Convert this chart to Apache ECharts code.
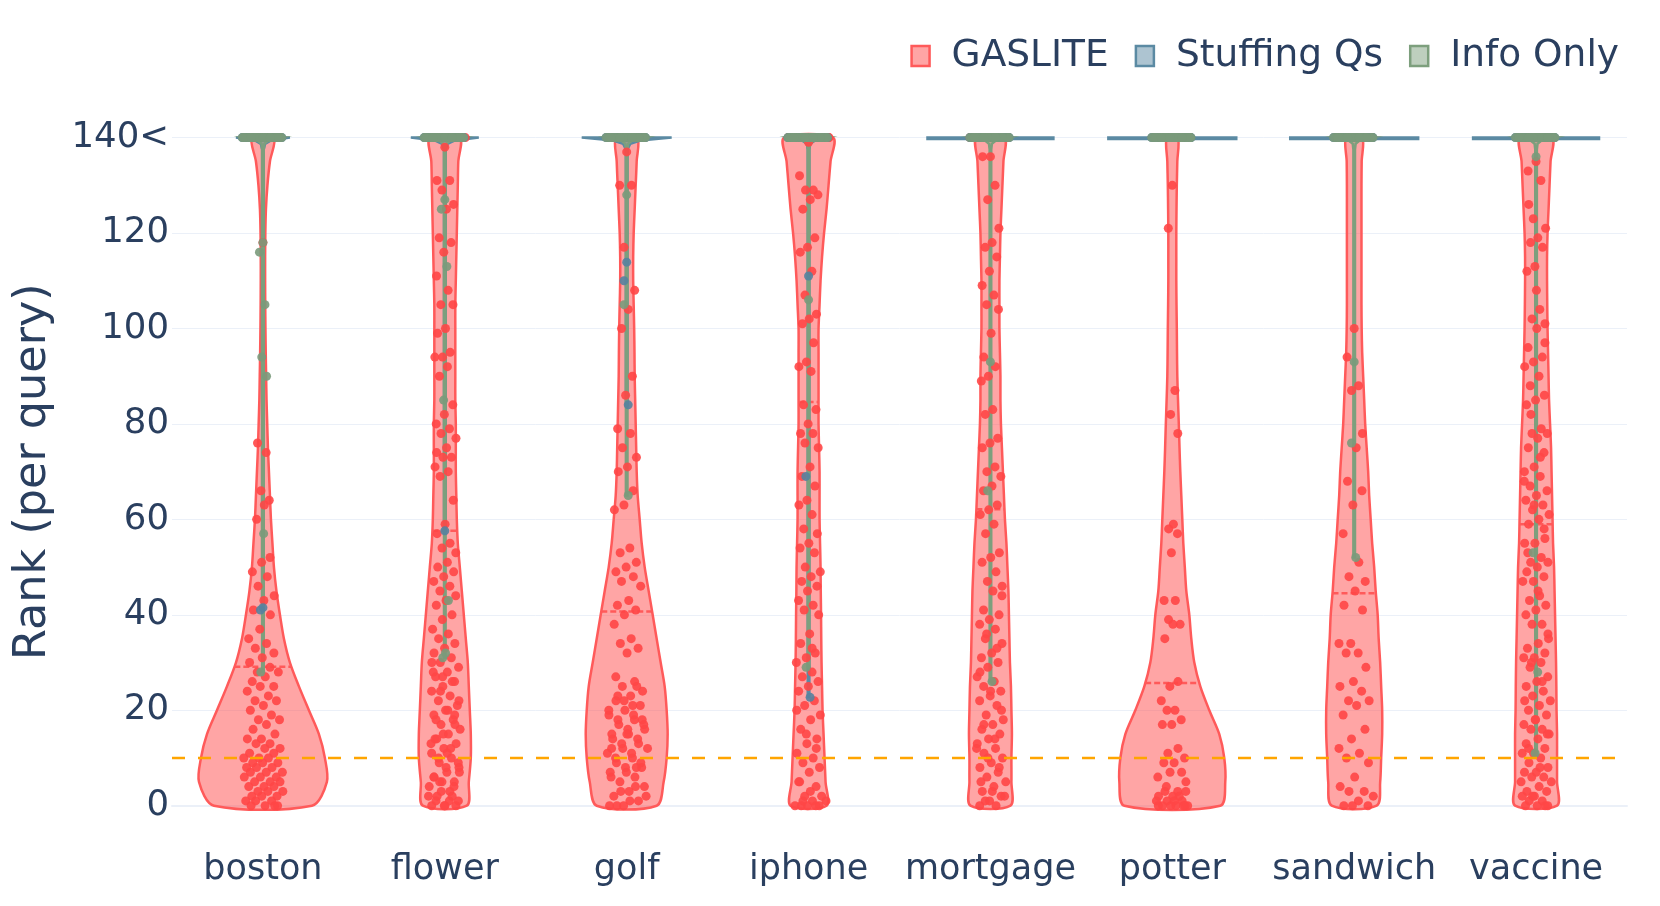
<!DOCTYPE html>
<html>
<head>
<meta charset="utf-8">
<script src="https://cdn.jsdelivr.net/npm/echarts@6/dist/echarts.min.js"></script>
<style>
html, body { margin: 0; padding: 0; background: #fff; }
#main { width: 1660px; height: 906px; }
</style>
</head>
<body>
<div id="main"></div>
<script>
// categories on the x axis
var categories = ['boston', 'flower', 'golf', 'iphone', 'mortgage', 'potter', 'sandwich', 'vaccine'];
var tickValues = [0, 20, 40, 60, 80, 100, 120, 140];
var tickLabels = ['0', '20', '40', '60', '80', '100', '120', '140<'];
var CAP = 140;        // ranks above this are drawn at 140 ("140<")
var THRESHOLD = 10;   // dashed orange line

// kde half widths of the GASLITE violins, read at these ranks
var densityLevels = [0, 5, 10, 15, 20, 25, 30, 35, 40, 45, 50, 55, 60, 65, 70, 75, 80, 85, 90, 95, 100, 105, 110, 115, 120, 125, 130, 135, 140];
var gasliteDensity = [
    [49, 64, 62, 56, 46, 36, 27, 21, 17, 13.5, 11, 9.5, 8, 7, 6, 5, 4.3, 3.6, 3.2, 2.8, 2.5, 2.3, 2.2, 2.2, 2.4, 3, 4.5, 7, 11],
    [22, 24, 26, 26, 25, 24, 23, 21, 19, 17, 15, 13, 12, 11.5, 11, 11, 11, 10.5, 10.5, 10.5, 10.5, 10.5, 11, 11.5, 12, 12.5, 13, 13.5, 15],
    [30, 37, 40, 41, 40, 38, 34, 30, 26, 22, 18, 15, 13, 11, 10, 9.5, 9, 8.5, 8, 7.8, 7.5, 7, 6.5, 6.5, 7, 8, 9, 10, 10.5],
    [18, 17, 16, 15, 14, 13.5, 13, 12.7, 12.5, 12.2, 12, 11.5, 11, 11, 11, 10.5, 10, 10, 10, 10, 10, 11, 12, 13.5, 15.5, 18, 20, 22, 24.5],
    [20, 21, 21, 21.5, 21, 20.5, 19.5, 19, 18.5, 18, 17, 16, 14.5, 13.5, 12.5, 11.5, 10.5, 10, 10, 9.5, 9, 9, 9, 9.5, 10, 11, 12, 13, 14],
    [48, 53, 52, 47, 37, 28, 22, 19, 17, 14, 12.5, 11, 10, 9, 8, 7.2, 6.5, 5.7, 5, 4.7, 4.5, 4.2, 4, 4, 4, 4.2, 4.5, 5, 5.5],
    [22.5, 26, 27, 28, 28, 27, 26, 24.5, 23.5, 21.5, 20, 18, 16.5, 15, 14, 12.5, 11, 10, 9, 8, 7.5, 7.3, 7.3, 7.3, 7.3, 7.3, 7.3, 7.5, 8],
    [21, 21, 21, 21, 20.5, 20.3, 20, 19.5, 19, 18.5, 18, 17, 16.5, 16, 15.5, 15, 14, 13, 12.5, 12, 11.5, 11.2, 11, 11, 11.5, 12.5, 13.5, 14.5, 16]
];
var gasliteMean = [29.1, 57.6, 40.7, 84.6, 62.1, 25.7, 44.5, 59];

// GASLITE ranks below the cap, per category
var gaslitePoints = [
    [118, 76, 74, 66, 64, 63, 60, 52, 51, 49, 48, 46, 44, 43, 41, 40, 37, 35, 34, 33, 32, 31, 30, 29, 28, 28, 27, 26, 25, 25, 24, 23, 22, 22, 21, 20, 19, 18, 18, 17, 16, 15, 14, 14, 13, 13, 12, 12, 11, 11, 10, 10, 10, 9, 9, 9, 8, 8, 8, 7, 7, 7, 6, 6, 6, 5, 5, 5, 4, 4, 4, 3, 3, 3, 2, 2, 2, 1, 1, 1, 0, 0, 0, 0],
    [138, 131, 131, 129, 126, 125, 119, 118, 116, 111, 108, 105, 105, 100, 99, 95, 94, 94, 92, 90, 84, 82, 80, 79, 78, 77, 75, 74, 73, 73, 71, 70, 69, 64, 59, 57, 55, 54, 53, 51, 50, 49, 48, 47, 46, 45, 44, 43, 42, 40, 39, 37, 36, 35, 34, 33, 32, 31, 30, 29, 28, 27, 26, 25, 24, 23, 22, 21, 20, 19, 18, 17, 16, 15, 14, 13, 12, 11, 10, 9, 8, 7, 6, 5, 5, 4, 3, 2, 1, 0, 28, 26, 24, 22, 20, 18, 17, 15, 13, 12, 10, 9, 8, 6, 4, 3, 2, 1, 1, 0, 0, 0, 2, 5, 7, 11, 14, 19, 27, 30],
    [137, 130, 130, 117, 108, 104, 100, 90, 86, 79, 78, 75, 73, 71, 70, 66, 63, 62, 54, 53, 51, 50, 49, 48, 47, 46, 43, 42, 41, 40, 38, 35, 34, 33, 32, 27, 26, 25, 24, 23, 22, 21, 20, 19, 18, 17, 16, 15, 14, 13, 12, 11, 10, 9, 8, 7, 6, 4, 3, 2, 1, 0, 25, 22, 20, 19, 18, 17, 16, 15, 14, 13, 12, 11, 10, 9, 8, 7, 6, 5, 4, 3, 2, 1, 0, 0, 21, 23, 18, 15, 12, 8],
    [139, 132, 129, 129, 128, 127, 125, 119, 117, 116, 112, 107, 103, 102, 101, 97, 93, 92, 91, 84, 83, 80, 78, 78, 76, 75, 71, 69, 67, 64, 63, 61, 58, 57, 55, 54, 53, 50, 49, 48, 47, 46, 45, 43, 42, 41, 40, 36, 34, 32, 31, 30, 28, 27, 26, 25, 24, 22, 21, 19, 18, 16, 14, 13, 11, 10, 9, 8, 7, 5, 4, 2, 1, 1, 0, 0, 0, 0, 0, 1, 2, 3, 5, 12, 15, 20, 33],
    [136, 136, 130, 127, 121, 118, 117, 115, 112, 109, 107, 105, 104, 99, 94, 92, 90, 89, 83, 82, 77, 76, 75, 71, 70, 69, 67, 66, 63, 62, 61, 59, 57, 53, 52, 51, 49, 47, 46, 45, 41, 40, 39, 38, 37, 35, 34, 32, 31, 30, 29, 27, 26, 25, 24, 23, 22, 21, 19, 18, 17, 16, 15, 14, 13, 12, 11, 10, 9, 8, 7, 6, 5, 4, 3, 2, 1, 0, 0, 1, 2, 3, 5, 8, 10, 12, 14, 17, 20, 24, 28, 33, 36, 44],
    [130, 121, 87, 82, 78, 59, 58, 57, 53, 43, 43, 39, 38, 38, 35, 26, 25, 22, 20, 20, 18, 17, 17, 12, 11, 10, 9, 9, 7, 7, 6, 3, 3, 3, 2, 2, 1, 1, 0, 0, 0, 0, 0, 1, 2, 4, 5, 1, 0, 0],
    [100, 94, 88, 87, 78, 75, 68, 66, 63, 57, 51, 48, 47, 45, 42, 41, 34, 34, 32, 32, 29, 26, 25, 24, 22, 22, 21, 19, 16, 14, 12, 11, 10, 9, 6, 4, 3, 3, 2, 1, 0, 0, 0],
    [135, 133, 131, 123, 121, 119, 118, 117, 113, 112, 104, 102, 101, 100, 96, 94, 93, 92, 90, 88, 86, 85, 84, 79, 78, 78, 77, 75, 74, 71, 70, 69, 67, 66, 65, 64, 63, 62, 61, 60, 59, 56, 55, 55, 52, 51, 51, 50, 49, 48, 47, 47, 44, 43, 42, 41, 40, 38, 38, 35, 34, 33, 32, 31, 31, 30, 29, 27, 26, 25, 24, 23, 22, 21, 20, 19, 18, 17, 16, 16, 15, 14, 13, 12, 11, 11, 10, 9, 8, 7, 7, 6, 6, 5, 4, 3, 3, 2, 2, 1, 1, 0, 0, 0, 0, 2, 5, 8, 12, 15, 18, 22, 26, 30, 36, 45, 53, 58, 63, 68, 73, 82, 97, 108, 126]
];
var gasliteCapCount = [6, 20, 7, 53, 19, 1, 5, 15];

// Stuffing Qs: ranks below the cap, count at the cap, kde width at the cap
var stuffingPoints = [[41.5, 41], [57.6], [113.9, 110, 84], [111, 69, 22.7], [], [], [], []];
var stuffingCapCount = [30, 30, 30, 30, 30, 30, 30, 30];
var stuffingTopWidth = [27, 34, 45, 22, 63, 64, 64, 63];

// Info Only
var infoPoints = [[118, 116, 105, 94, 90, 57, 28], [127, 125, 113, 85, 43, 32, 31], [128, 105, 65], [106, 29], [93, 66, 26], [], [93, 76, 52], [136, 53, 28, 11]];
var infoCapCount = [30, 30, 30, 30, 30, 30, 30, 30];
var infoTopWidth = [18, 18, 18, 18, 18, 18, 18, 18];

var FONT = '"DejaVu Sans", Verdana, sans-serif';
var TEXT = '#2a3f5f';
var DENSITY_TO_X = 1 / 182;  // half width unit -> category units
var JITTER = 0.115;
var STEM = 0.8;

function withCap(lists, counts) {
    return lists.map(function (vals, i) {
        var out = vals.slice();
        for (var k = 0; k < counts[i]; k++) out.push(CAP);
        return out;
    });
}

function jitterOffset(k) {
    var f = (k * 0.6180339887 + 0.5) % 1;
    return (f - 0.5) * 2 * JITTER;
}

// local point density from the 10 nearest ranks, like plotly's jitter factors
function jitterFactors(vals) {
    var n = vals.length;
    var order = vals.map(function (v, k) { return k; }).sort(function (a, b) { return vals[a] - vals[b]; });
    var sorted = order.map(function (k) { return vals[k]; });
    var minSpan = (sorted[n - 1] - sorted[0]) / 20 || 1;
    var f = new Array(n), maxF = 0;
    order.forEach(function (k, r) {
        var r0 = Math.max(0, r - 5), r1 = Math.min(n - 1, r + 5);
        var jf = Math.sqrt(minSpan * (r1 - r0) / (sorted[r1] - sorted[r0] + minSpan));
        f[k] = jf;
        maxF = Math.max(maxF, jf);
    });
    return f.map(function (x) { return maxF ? x / maxF : 0; });
}

function widthAt(prof, y) {
    for (var k = 1; k < prof.length; k++) {
        if (y <= prof[k][0]) {
            var t = (y - prof[k - 1][0]) / (prof[k][0] - prof[k - 1][0]);
            return prof[k - 1][1] + t * (prof[k][1] - prof[k - 1][1]);
        }
    }
    return prof[prof.length - 1][1];
}

// violins that hold almost only capped ranks: thin stem + flare at the cap
function spikeProfile(vals, topWidth) {
    var lo = vals.length ? Math.min.apply(null, vals) : CAP;
    if (lo >= CAP) return [[CAP - 0.3, topWidth], [CAP, topWidth]];
    return [[lo, STEM], [CAP - 2.5, STEM], [CAP - 1.3, topWidth * 0.08], [CAP - 0.6, topWidth * 0.3], [CAP, topWidth]];
}

var gasliteProfiles = gasliteDensity.map(function (d) {
    return densityLevels.map(function (lv, k) { return [lv, d[k]]; });
});
var stuffingProfiles = stuffingPoints.map(function (v, i) { return spikeProfile(v, stuffingTopWidth[i]); });
var infoProfiles = infoPoints.map(function (v, i) { return spikeProfile(v, infoTopWidth[i]); });

function violinSeries(name, profiles, lineColor, fillColor, means, smooth) {
    return {
        name: name,
        type: 'custom',
        coordinateSystem: 'cartesian2d',
        xAxisIndex: 1,
        yAxisIndex: 0,
        silent: true,
        clip: false,
        data: categories.map(function (c, i) { return [i, 0]; }),
        renderItem: function (params, api) {
            var i = api.value(0);
            var prof = profiles[i];
            var right = [], left = [];
            prof.forEach(function (p) {
                right.push(api.coord([i + p[1] * DENSITY_TO_X, p[0]]));
                left.push(api.coord([i - p[1] * DENSITY_TO_X, p[0]]));
            });
            var children = [{
                type: 'polygon',
                shape: { points: right.concat(left.reverse()), smooth: smooth },
                style: { fill: fillColor, stroke: lineColor, lineWidth: 2.5 }
            }];
            if (means) {
                var w = widthAt(prof, means[i]) * DENSITY_TO_X;
                var a = api.coord([i - w, means[i]]);
                var b = api.coord([i + w, means[i]]);
                children.push({
                    type: 'line',
                    shape: { x1: a[0], y1: a[1], x2: b[0], y2: b[1] },
                    style: { stroke: lineColor, lineWidth: 2.5, lineDash: [6, 3] }
                });
            }
            return { type: 'group', children: children };
        }
    };
}

function pointSeries(name, lists, color, opacity) {
    var data = [];
    lists.forEach(function (vals, i) {
        var jf = jitterFactors(vals);
        vals.forEach(function (v, k) {
            data.push([i + jitterOffset(k) * jf[k], v]);
        });
    });
    return {
        name: name,
        type: 'scatter',
        xAxisIndex: 1,
        yAxisIndex: 0,
        silent: true,
        clip: false,
        symbolSize: 9,
        itemStyle: { color: color, opacity: opacity },
        data: data
    };
}

var RED = '#ff5a5a', RED_FILL = 'rgba(255,75,75,0.5)', RED_PT = '#ff4646';
var BLUE = '#5b8aa3', BLUE_FILL = 'rgba(91,138,163,0.5)', BLUE_PT = '#56829e';
var GREEN = '#7d9f7d', GREEN_FILL = 'rgba(125,159,125,0.5)', GREEN_PT = '#7a9a7b';

var myChart = echarts.init(document.getElementById('main'));

var option = {
    animation: false,
    backgroundColor: '#fff',
    grid: { left: 172, right: 33, top: 137.6, bottom: 100.3 },
    legend: {
        top: 32,
        right: 36,
        itemWidth: 18,
        itemHeight: 20,
        itemGap: 26,
        textStyle: { fontSize: 37.5, color: TEXT, fontFamily: FONT, padding: [0, 0, 0, 17] },
        data: [
            { name: 'GASLITE', icon: 'rect', itemStyle: { color: RED_FILL, borderColor: RED, borderWidth: 2.5 } },
            { name: 'Stuffing Qs', icon: 'rect', itemStyle: { color: BLUE_FILL, borderColor: BLUE, borderWidth: 2.5 } },
            { name: 'Info Only', icon: 'rect', itemStyle: { color: GREEN_FILL, borderColor: GREEN, borderWidth: 2.5 } }
        ]
    },
    xAxis: [{
        type: 'category',
        data: categories,
        axisLine: { show: true, lineStyle: { color: '#ebf0f8', width: 2 } },
        axisTick: { show: false },
        splitLine: { show: false },
        axisLabel: { interval: 0, fontSize: 35, color: TEXT, fontFamily: FONT, margin: 47 }
    }, {
        type: 'value',
        min: -0.5,
        max: 7.5,
        show: false
    }],
    yAxis: {
        type: 'value',
        min: 0,
        max: CAP,
        interval: 20,
        axisLine: { show: false },
        axisTick: { show: false },
        splitLine: { lineStyle: { color: '#ebf0f8', width: 1 } },
        axisLabel: {
            fontSize: 35.5, color: TEXT, fontFamily: FONT, margin: 3,
            formatter: function (v) { return tickLabels[tickValues.indexOf(v)]; }
        },
        name: 'Rank (per query)',
        nameLocation: 'middle',
        nameGap: 116,
        nameTextStyle: { fontSize: 44.5, color: TEXT, fontFamily: FONT }
    },
    series: [
        violinSeries('GASLITE', gasliteProfiles, RED, RED_FILL, gasliteMean, 0.3),
        pointSeries('GASLITE', withCap(gaslitePoints, gasliteCapCount), RED_PT, 0.9),
        violinSeries('Stuffing Qs', stuffingProfiles, BLUE, BLUE_FILL, null, 0),
        pointSeries('Stuffing Qs', withCap(stuffingPoints, stuffingCapCount), BLUE_PT, 0.9),
        violinSeries('Info Only', infoProfiles, GREEN, GREEN_FILL, null, 0),
        pointSeries('Info Only', withCap(infoPoints, infoCapCount), GREEN_PT, 0.9),
        {
            name: 'threshold',
            type: 'line',
            xAxisIndex: 1,
            yAxisIndex: 0,
            silent: true,
            symbol: 'none',
            lineStyle: { color: '#ffa500', width: 2.5, type: [13, 13] },
            data: [[-0.5, THRESHOLD], [7.5, THRESHOLD]]
        }
    ]
};

myChart.setOption(option);
</script>
</body>
</html>
